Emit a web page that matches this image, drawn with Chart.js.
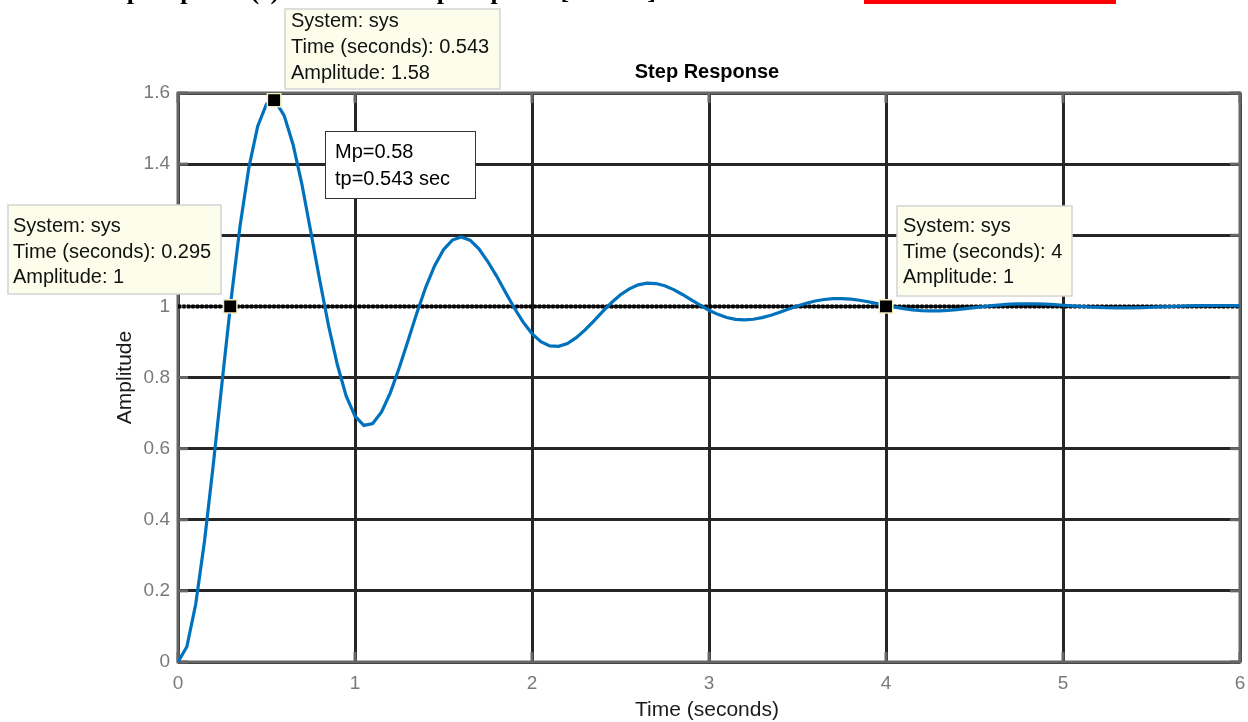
<!DOCTYPE html>
<html><head><meta charset="utf-8">
<script src="https://cdn.jsdelivr.net/npm/chart.js@4.4.1/dist/chart.umd.min.js"></script>
<style>html,body{margin:0;padding:0;background:#fff;overflow:hidden}</style>
</head><body>
<canvas id="c" width="1248" height="722"></canvas>
<script>
// ---- data ----
const timeS = [0,0.05,0.1,0.15,0.2,0.25,0.3,0.35,0.4,0.45,0.5,0.55,0.6,0.65,0.7,0.75,0.8,0.85,0.9,0.95,
1,1.05,1.1,1.15,1.2,1.25,1.3,1.35,1.4,1.45,1.5,1.55,1.6,1.65,1.7,1.75,1.8,1.85,1.9,1.95,
2,2.05,2.1,2.15,2.2,2.25,2.3,2.35,2.4,2.45,2.5,2.55,2.6,2.65,2.7,2.75,2.8,2.85,2.9,2.95,
3,3.05,3.1,3.15,3.2,3.25,3.3,3.35,3.4,3.45,3.5,3.55,3.6,3.65,3.7,3.75,3.8,3.85,3.9,3.95,
4,4.05,4.1,4.15,4.2,4.25,4.3,4.35,4.4,4.45,4.5,4.55,4.6,4.65,4.7,4.75,4.8,4.85,4.9,4.95,
5,5.05,5.1,5.15,5.2,5.25,5.3,5.35,5.4,5.45,5.5,5.55,5.6,5.65,5.7,5.75,5.8,5.85,5.9,5.95,6];
const amplitude = [0,0.0429,0.1625,0.3411,0.5577,0.7910,1.0192,1.2238,1.3893,1.5058,
1.5691,1.5770,1.5363,1.4552,1.3434,1.2105,1.0757,0.9469,0.8365,0.7484,
0.6912,0.6653,0.6704,0.7030,0.7574,0.8272,0.9042,0.9824,1.0543,1.1145,
1.1593,1.1864,1.1952,1.1861,1.1618,1.1261,1.0852,1.0399,0.9954,0.9557,
0.9235,0.9010,0.8889,0.8875,0.8957,0.9119,0.9339,0.9593,0.9858,1.0109,
1.0326,1.0494,1.0605,1.0653,1.0642,1.0578,1.0471,1.0334,1.0184,1.0032,
0.9892,0.9775,0.9688,0.9636,0.9620,0.9637,0.9684,0.9752,0.9835,0.9924,
1.0010,1.0088,1.0150,1.0194,1.0217,1.0219,1.0203,1.0172,1.0129,1.0078,
1.0027,0.9978,0.9936,0.9903,0.9882,0.9873,0.9875,0.9888,0.9909,0.9935,
0.9965,0.9994,1.0022,1.0044,1.0061,1.0071,1.0074,1.0071,1.0061,1.0047,
1.0032,1.0014,0.9998,0.9983,0.9970,0.9962,0.9958,0.9957,0.9960,0.9967,
0.9975,0.9985,0.9995,1.0004,1.0013,1.0019,1.0023,1.0025,1.0024,1.0022,1.0018];
const tipTimes = [0.543, 0.295, 4];
const tipAmps = [1.58, 1, 1];
const steadyState = 1;
const xTickValues = [0,1,2,3,4,5,6];
const xTickLabels = ['0','1','2','3','4','5','6'];
const yTickValues = [0,0.2,0.4,0.6,0.8,1,1.2,1.4,1.6];
const yTickLabels = ['0','0.2','0.4','0.6','0.8','1','1.2','1.4','1.6'];
const noteLines = ['Mp=0.58','tp=0.543 sec'];
const chartTitle = 'Step Response';
const xTitle = 'Time (seconds)';
const yTitle = 'Amplitude';
const topCaption = 'Step response (c) of the unit step response [matlab]';

// ---- styling / layout ----
const SANS = '"Liberation Sans", Arial, Helvetica, sans-serif';
const tipBoxes = [ // pixel layout of the data-tip boxes (same order as tipTimes)
  {x0:285, y0:9,   x1:500,  y1:89,  tx:291, ty:[21,47,73]},
  {x0:8,   y0:205, x1:221,  y1:294, tx:13,  ty:[226,252,277]},
  {x0:897, y0:206, x1:1072, y1:296, tx:903, ty:[226,252,277]}
];

function seg(ctx,x0,y0,x1,y1){ctx.beginPath();ctx.moveTo(x0,y0);ctx.lineTo(x1,y1);ctx.stroke();}

const decor = {
  id:'decor',
  beforeDatasetsDraw(chart){
    const {ctx, chartArea:a, scales:{x,y}} = chart;
    ctx.save();
    ctx.strokeStyle = '#666666'; ctx.lineWidth = 3; ctx.lineCap='butt';
    xTickValues.forEach(v=>{const px=x.getPixelForValue(v); seg(ctx,px,a.bottom,px,a.bottom-10); seg(ctx,px,a.top,px,a.top+10);});
    yTickValues.forEach(v=>{const py=y.getPixelForValue(v); seg(ctx,a.left,py,a.left+10,py); seg(ctx,a.right,py,a.right-10,py);});
    ctx.strokeRect(a.left, a.top, a.right-a.left, a.bottom-a.top);
    ctx.restore();
  },
  afterDraw(chart){
    const {ctx, chartArea:a} = chart;
    ctx.save();
    // clipped caption line at the very top
    ctx.fillStyle = '#000';
    ctx.font = 'bold 26px "Liberation Serif", "Times New Roman", serif';
    ctx.textBaseline = 'alphabetic'; ctx.textAlign = 'left';
    ctx.fillText(topCaption, 92, -1);
    ctx.fillStyle = '#ff0000';
    ctx.fillRect(864, 0, 252, 4);
    // title
    ctx.fillStyle = '#000';
    ctx.font = 'bold 20px ' + SANS;
    ctx.textAlign = 'center'; ctx.textBaseline = 'middle';
    ctx.fillText(chartTitle, (a.left+a.right)/2 - 2, 72);
    // axis titles
    ctx.font = '21px ' + SANS; ctx.fillStyle = '#1a1a1a';
    ctx.fillText(xTitle, (a.left+a.right)/2 - 2, 710);
    ctx.save(); ctx.translate(125, (a.top+a.bottom)/2); ctx.rotate(-Math.PI/2);
    ctx.fillText(yTitle, 0, 0); ctx.restore();
    // data tips
    ctx.font = '20px ' + SANS; ctx.textAlign = 'left';
    tipTimes.forEach((t,i)=>{
      const b = tipBoxes[i];
      ctx.fillStyle = '#fdfdec'; ctx.fillRect(b.x0,b.y0,b.x1-b.x0,b.y1-b.y0);
      ctx.strokeStyle = '#d4d4d4'; ctx.lineWidth = 1.5; ctx.strokeRect(b.x0,b.y0,b.x1-b.x0,b.y1-b.y0);
      ctx.fillStyle = '#111';
      const lines = ['System: sys', 'Time (seconds): ' + t, 'Amplitude: ' + tipAmps[i]];
      lines.forEach((s,j)=>ctx.fillText(s, b.tx, b.ty[j]));
    });
    // Mp / tp note
    ctx.fillStyle = '#fff'; ctx.fillRect(325,131,150,67);
    ctx.strokeStyle = '#333'; ctx.lineWidth = 1; ctx.strokeRect(325.5,131.5,150,67);
    ctx.fillStyle = '#000';
    ctx.fillText(noteLines[0], 335, 152);
    ctx.fillText(noteLines[1], 335, 179);
    ctx.restore();
  }
};

const ctx = document.getElementById('c').getContext('2d');
new Chart(ctx, {
  type: 'line',
  data: {
    datasets: [
      { label:'marks', type:'scatter', order:1,
        data: tipTimes.map((t,i)=>({x:t, y:tipAmps[i]})),
        pointStyle:'rect', pointRadius:9.5, pointHoverRadius:9.5,
        backgroundColor:'#000', borderColor:'#f4efc0', borderWidth:1.5, showLine:false },
      { label:'sys', order:2,
        data: timeS.map((t,i)=>({x:t, y:amplitude[i]})),
        borderColor:'#0072BD', borderWidth:3.2, pointRadius:0, tension:0, fill:false },
      { label:'final', order:3,
        data: [{x:xTickValues[0], y:steadyState},{x:xTickValues[xTickValues.length-1], y:steadyState}],
        borderColor:'#000', borderWidth:4, borderDash:[3,1.5], pointRadius:0, fill:false }
    ]
  },
  options: {
    responsive:false, animation:false, devicePixelRatio:1,
    layout:{ autoPadding:false, padding:{ top:93, right:8, left:0, bottom:0 } },
    plugins:{ legend:{display:false}, tooltip:{enabled:false}, title:{display:false} },
    events:[],
    scales:{
      x:{ type:'linear', min:0, max:6,
        afterFit(s){ s.height = 60; s.paddingLeft = 0; s.paddingRight = 0; },
        afterBuildTicks(s){ s.ticks = xTickValues.map(v=>({value:v})); },
        grid:{ color:'#262626', lineWidth:3, drawTicks:false },
        border:{ display:false },
        ticks:{ padding:10, color:'#7a7a7a', font:{ family:SANS, size:19 },
          callback:(v)=>{ const i = xTickValues.indexOf(Math.round(v*10)/10); return i>=0 ? xTickLabels[i] : ''; } }
      },
      y:{ type:'linear', min:0, max:1.6,
        afterFit(s){ s.width = 178; s.paddingTop = 0; s.paddingBottom = 0; },
        afterBuildTicks(s){ s.ticks = yTickValues.map(v=>({value:v})); },
        grid:{ color:'#262626', lineWidth:3, drawTicks:false },
        border:{ display:false },
        ticks:{ padding:8, color:'#7a7a7a', font:{ family:SANS, size:19 },
          callback:(v)=>{ const i = yTickValues.findIndex(q=>Math.abs(q-v)<1e-6); return i>=0 ? yTickLabels[i] : ''; } }
      }
    }
  },
  plugins:[decor]
});
</script>
</body></html>
